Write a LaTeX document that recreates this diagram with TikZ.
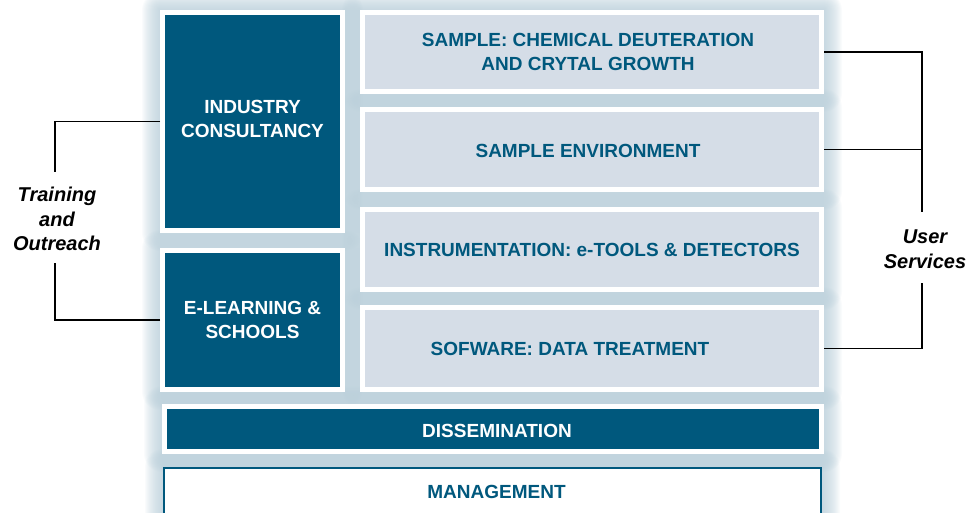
\documentclass[tikz,border=0pt]{standalone}
\usepackage{fontspec}
\setmainfont{Liberation Sans}
\pgfdeclarelayer{background}
\pgfsetlayers{background,main}
\definecolor{navy}{HTML}{00587D}
\definecolor{paleblue}{HTML}{D5DDE7}
\definecolor{glowc}{HTML}{B3CAD6}
\begin{document}
\begin{tikzpicture}[x=1pt,y=-1pt,
  boxfont/.style={font=\bfseries\fontsize{19}{24}\selectfont},
  darkbox/.style={draw=white,line width=5pt,fill=navy,text=white,
    boxfont,align=center,inner sep=0pt},
  palebox/.style={draw=white,line width=5pt,fill=paleblue,text=navy,
    boxfont,align=center,inner sep=0pt},
  linebox/.style={draw=navy,line width=2pt,fill=white,text=navy,
    boxfont,align=center,inner sep=0pt},
  sidetext/.style={font=\bfseries\itshape\fontsize{20}{24.5}\selectfont,
    align=center,inner sep=0pt},
  bracket/.style={draw=black,line width=1.8pt}]
\useasboundingbox (0,0) rectangle (970,512);

% left column
\node[darkbox,minimum width=180pt,minimum height=218pt] (ind) at (252.5,121.5) {};
\node[text=white,boxfont,align=center,inner sep=0pt] (indt)
  at ([yshift=3pt]ind.center) {INDUSTRY\\CONSULTANCY};
\node[darkbox,minimum width=180pt,minimum height=139pt] (elearn) at (252.5,320)
  {E-LEARNING \&\\SCHOOLS};

% right column
\node[palebox,minimum width=459pt,minimum height=79pt] (s1) at (592,52) {};
\node[text=navy,boxfont,align=center,inner sep=0pt] (s1t)
  at ([xshift=-4pt]s1.center) {SAMPLE: CHEMICAL DEUTERATION\\AND CRYTAL GROWTH};
\node[palebox,minimum width=459pt,minimum height=80pt] (s2) at (592,149.5) {};
\node[text=navy,boxfont,inner sep=0pt] (s2t)
  at ([xshift=-4pt,yshift=-1.5pt]s2.center) {SAMPLE ENVIRONMENT};
\node[palebox,minimum width=459pt,minimum height=80pt] (s3) at (592,249.5)
  {INSTRUMENTATION: e-TOOLS \& DETECTORS};
\node[palebox,minimum width=459pt,minimum height=82pt] (s4) at (592,348.5) {};
\node[text=navy,boxfont,inner sep=0pt] (s4t) at ([xshift=-22pt]s4.center)
  {SOFWARE: DATA TREATMENT};

% full-width bars
\node[darkbox,minimum width=657pt,minimum height=45pt] (diss) at (493,429) {};
\node[text=white,boxfont,inner sep=0pt] (disst)
  at ([xshift=4pt,yshift=-2pt]diss.center) {DISSEMINATION};
\node[linebox,minimum width=657pt,minimum height=48pt] (mgmt) at (492.5,492) {};
\node[text=navy,boxfont,inner sep=0pt] (mgmtt)
  at ([xshift=4pt]mgmt.center) {MANAGEMENT};

% soft halo behind the boxes
\begin{pgfonlayer}{background}
\foreach \n in {ind,elearn,s1,s2,s3,s4,diss,mgmt}{
  \foreach \r in {1,...,18}{
    \fill[glowc,opacity=0.065,rounded corners=\r pt]
      ([shift={(-\r,-\r)}]\n.north west) rectangle ([shift={(\r,\r)}]\n.south east);
  }
}
\end{pgfonlayer}

% side labels
\node[sidetext] (train) at (57,219) {Training\\and\\Outreach};
\node[sidetext] (user) at (925,249) {User\\Services};

\coordinate (lt) at (55,172);
\coordinate (lb) at (55,263);
\coordinate (rt) at (922,212);
\coordinate (rb) at (922,283);

\draw[bracket] (ind.west) -| (lt);
\draw[bracket] (elearn.west) -| (lb);
\draw[bracket] (s1.east) -| (rt);
\draw[bracket] (s2.east) -- (s2.east -| rt);
\draw[bracket] (s4.east) -| (rb);
\end{tikzpicture}
\end{document}
